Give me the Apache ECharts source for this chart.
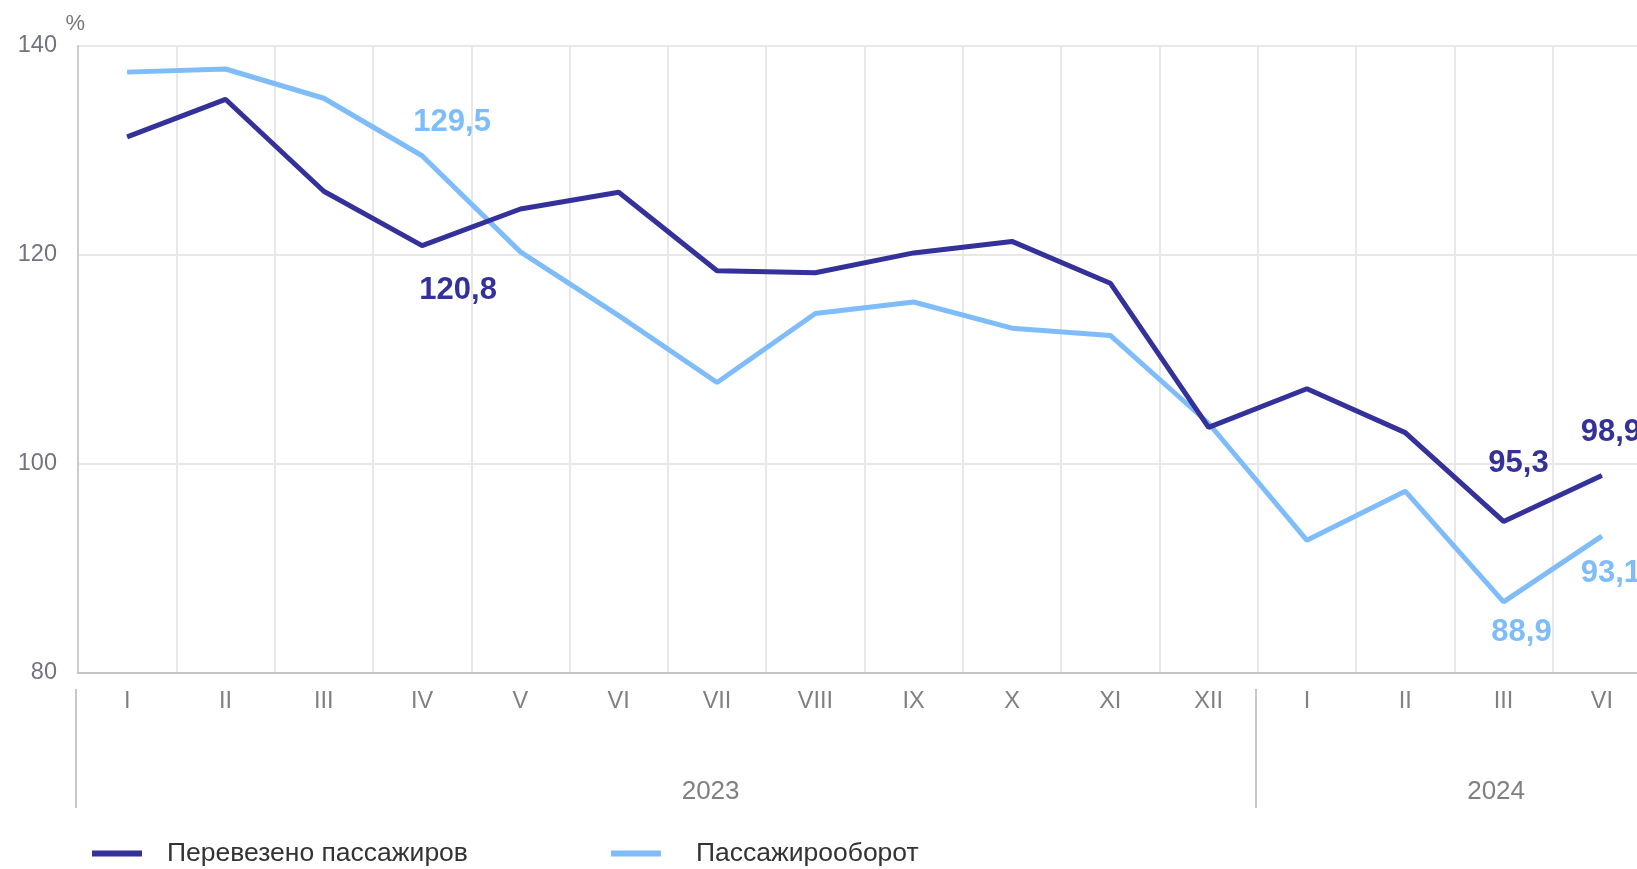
<!DOCTYPE html>
<html>
<head>
<meta charset="utf-8">
<script src="https://cdn.jsdelivr.net/npm/echarts@6/dist/echarts.min.js"></script>
<style>
html,body{margin:0;padding:0;background:#fff;overflow:hidden;}
#chart{width:1637px;height:869px;}
</style>
</head>
<body>
<div id="chart"></div>
<script>
const months = ['I','II','III','IV','V','VI','VII','VIII','IX','X','XI','XII','I','II','III','VI'];
const years = ['2023','2024'];
const seriesNames = ['Перевезено пассажиров','Пассажирооборот'];
const passengers = [131.3, 134.9, 126.1, 120.9, 124.4, 126.0, 118.5, 118.3, 120.2, 121.3, 117.3, 103.5, 107.2, 103.0, 94.5, 98.9];
const turnover   = [137.5, 137.8, 135.0, 129.5, 120.3, 114.2, 107.8, 114.4, 115.5, 113.0, 112.3, 103.9, 92.7, 97.4, 86.8, 93.1];
const passengerLabels = {3:'120,8', 14:'95,3', 15:'98,9'};
const turnoverLabels  = {3:'129,5', 14:'88,9', 15:'93,1'};
const yTicks = {min:80, max:140, step:20};

const DARK = '#35319a';
const LIGHT = '#7fbcfa';
const FONT = '"Liberation Sans", Arial, sans-serif';

const passengerOffsets = {3:[36,45], 14:[15,-58], 15:[9,-43]};
const turnoverOffsets  = {3:[30,-33], 14:[18,31], 15:[9,37]};

function buildData(values, labels, offsets, color){
  return values.map((v,i)=>{
    if(labels[i] === undefined) return v;
    return {
      value: v,
      label: {
        show: true,
        position: 'inside',
        offset: offsets[i],
        formatter: labels[i],
        color: color,
        fontSize: 31,
        fontWeight: 'bold',
        fontFamily: FONT,
        align: 'center',
        verticalAlign: 'middle'
      }
    };
  });
}

const chart = echarts.init(document.getElementById('chart'), null, {renderer:'canvas'});
const option = {
  animation: false,
  backgroundColor: '#ffffff',
  grid: [
    {left: 78, width: 1573, top: 46, bottom: 196, containLabel: false, outerBoundsMode: 'none'},
    {left: 75.5, width: 1573, top: 46, bottom: 196, containLabel: false, outerBoundsMode: 'none', show: false}
  ],
  legend: {
    left: 87, top: 835,
    itemWidth: 50, itemHeight: 6, itemGap: 143,
    icon: 'rect',
    textStyle: {fontSize: 26.5, color: '#333333', fontFamily: FONT, padding: [0,0,0,20]},
    data: [
      {name: seriesNames[0], textStyle: {padding: [0,0,0,20]}},
      {name: seriesNames[1], textStyle: {padding: [0,0,0,30]}}
    ]
  },
  xAxis: [
    {
      type: 'category',
      gridIndex: 0,
      data: months,
      boundaryGap: true,
      axisLine: {show: true, onZero: false, lineStyle: {color: '#c4c4c4', width: 2}},
      axisTick: {show: false},
      axisLabel: {interval: 0, margin: 17, fontSize: 23.5, color: '#808080', fontFamily: FONT},
      splitLine: {show: true, interval: 0, lineStyle: {color: '#e8e8e8', width: 2}}
    },
    {
      type: 'value',
      gridIndex: 1,
      position: 'bottom',
      offset: 16,
      min: 0, max: 16,
      axisLine: {show: false, onZero: false},
      axisTick: {show: true, customValues: [0, 12], length: 119, inside: false, lineStyle: {color: '#c8c8c8', width: 2}},
      axisLabel: {
        show: true, customValues: [6.46, 14.45], margin: 90,
        fontSize: 26, color: '#808080', fontFamily: FONT,
        formatter: function(v){ return v < 12 ? years[0] : years[1]; }
      },
      splitLine: {show: false}
    }
  ],
  yAxis: [
    {
      type: 'value',
      gridIndex: 0,
      position: 'left',
      min: yTicks.min, max: yTicks.max, interval: yTicks.step,
      name: '%',
      nameLocation: 'end',
      nameGap: 11,
      nameTextStyle: {fontSize: 22, color: '#777777', fontFamily: FONT, align: 'right', padding: [0, -7, 0, 0]},
      axisLine: {show: true, onZero: false, lineStyle: {color: '#cccccc', width: 2}},
      axisTick: {show: false},
      axisLabel: {margin: 21, fontSize: 23.5, color: '#737380', fontFamily: FONT},
      splitLine: {show: true, lineStyle: {color: '#e8e8e8', width: 2}}
    },
    {
      type: 'value',
      gridIndex: 1,
      show: false,
      min: yTicks.min, max: yTicks.max,
      axisLine: {show: false, onZero: false}
    }
  ],
  series: [
    {
      name: seriesNames[0],
      type: 'line',
      xAxisIndex: 0, yAxisIndex: 0,
      data: buildData(passengers, passengerLabels, passengerOffsets, DARK),
      symbol: 'circle', symbolSize: 1, showSymbol: true,
      lineStyle: {color: DARK, width: 5},
      itemStyle: {color: DARK},
      z: 3
    },
    {
      name: seriesNames[1],
      type: 'line',
      xAxisIndex: 0, yAxisIndex: 0,
      data: buildData(turnover, turnoverLabels, turnoverOffsets, LIGHT),
      symbol: 'circle', symbolSize: 1, showSymbol: true,
      lineStyle: {color: LIGHT, width: 5},
      itemStyle: {color: LIGHT},
      z: 2
    }
  ]
};
chart.setOption(option);
</script>
</body>
</html>
